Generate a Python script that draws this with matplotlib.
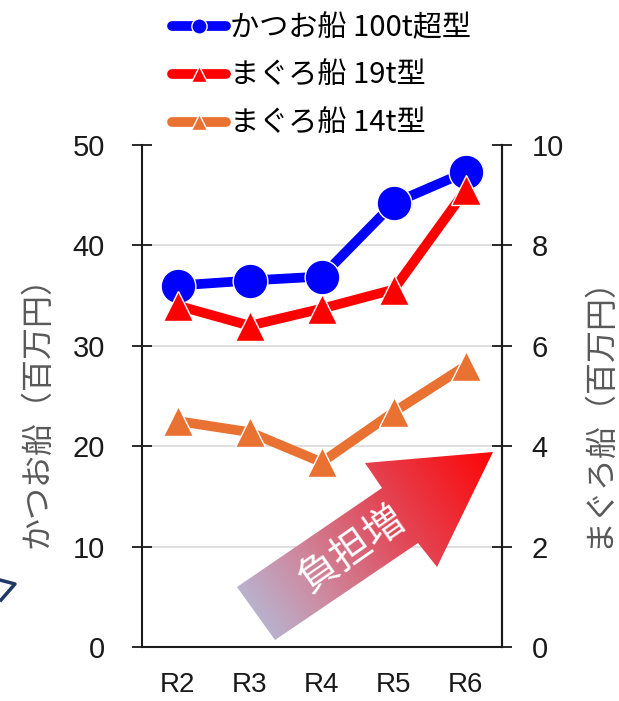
import numpy as np
import matplotlib
matplotlib.use("Agg")
from matplotlib import pyplot as plt
from matplotlib.lines import Line2D
from matplotlib.patches import Polygon

plt.rcParams['font.family'] = ['Liberation Sans', 'Noto Sans CJK JP', 'DejaVu Sans']
jp = ['Noto Sans CJK JP', 'DejaVu Sans']

years = ['R2', 'R3', 'R4', 'R5', 'R6']
katsuo_100t = [36.0, 36.5, 36.9, 44.2, 47.3]
maguro_19t = [6.8, 6.4, 6.74, 7.12, 9.1]
maguro_14t = [4.5, 4.28, 3.68, 4.68, 5.6]
names = ['かつお船 100t超型', 'まぐろ船 19t型', 'まぐろ船 14t型']
colors = ['#0000FF', '#FF0000', '#E97132']

fig = plt.figure(figsize=(6.19, 7.01), dpi=100)
ax = fig.add_axes([0.229, 0.077, 0.5815, 0.7162])
ax2 = ax.twinx()

x = np.arange(len(years))
ax.plot(x, katsuo_100t, color=colors[0], lw=7, marker='o', ms=25,
        mec='white', mew=1, zorder=3)
ax2.plot(x, maguro_19t, color=colors[1], lw=7, marker='^', ms=22,
         mec='white', mew=1, zorder=4)
ax2.plot(x, maguro_14t, color=colors[2], lw=7, marker='^', ms=22,
         mec='white', mew=1, zorder=3)

ax.set_xlim(-0.5, 4.5)
ax.set_ylim(0, 50)
ax2.set_ylim(0, 10)
ax.set_yticks(range(0, 51, 10))
ax2.set_yticks(range(0, 11, 2))
ax.set_xticks(x)
ax.set_xticklabels(years)

ax.yaxis.grid(True, color='#D9D9D9', lw=1.2)
gl = ax.get_ygridlines()
gl[0].set_visible(False)
gl[-1].set_visible(False)

for a in (ax, ax2):
    a.spines['top'].set_visible(False)
    for s in a.spines.values():
        s.set_linewidth(1.5)
        s.set_color('#1a1a1a')
ax2.spines['left'].set_visible(False)
ax2.spines['bottom'].set_visible(False)

ax.tick_params(axis='y', direction='inout', length=15, width=1.3,
               labelsize=21, pad=19, colors='#1a1a1a')
ax2.tick_params(axis='y', direction='inout', length=15, width=1.3,
                labelsize=21, pad=14, colors='#1a1a1a')
ax.tick_params(axis='x', length=0, labelsize=20, pad=18, colors='#1a1a1a')

ax.set_ylabel('かつお船（百万円）', family=jp, fontsize=23, color='#595959', va='center')
ax2.set_ylabel('まぐろ船（百万円）', family=jp, fontsize=23, color='#595959', va='center')
ax.yaxis.set_label_coords(-0.29, 0.485)
ax2.yaxis.set_label_coords(1.267, 0.485)

handles = [
    Line2D([], [], color=colors[0], lw=7, marker='o', ms=11, mec='white',
           mew=1, solid_capstyle='round'),
    Line2D([], [], color=colors[1], lw=7, marker='^', ms=11, mec='white',
           mew=1, solid_capstyle='round'),
    Line2D([], [], color=colors[2], lw=7, marker='^', ms=11, mec='white',
           mew=1, solid_capstyle='round'),
]
fig.legend(handles, names, loc='upper left', bbox_to_anchor=(172 / 619, 1 - 13 / 701),
           frameon=False, prop={'family': jp, 'size': 21}, handlelength=1.85,
           handletextpad=0.15, labelspacing=0.62, borderpad=0, borderaxespad=0)

# overlay for the arrow annotation, pixel coordinates
ov = fig.add_axes([0, 0, 1, 1], zorder=10)
ov.patch.set_visible(False)
ov.axis('off')

arrow_pts = [(237, 587), (382, 488), (365, 463), (493, 452),
             (437, 567), (418, 543), (275, 640)]
poly = Polygon(arrow_pts, closed=True, facecolor='none', edgecolor='none')
ov.add_patch(poly)

gx, gy = np.meshgrid(np.linspace(230, 500, 200), np.linspace(445, 645, 160))
ang = np.deg2rad(35)
t = (gx - 237) * np.cos(ang) - (gy - 640) * np.sin(ang)
t = (t - t.min()) / (t.max() - t.min())
stops = [0.0, 0.3, 0.62, 1.0]
reds = [0.68, 0.80, 0.89, 1.0]
greens = [0.79, 0.55, 0.27, 0.0]
blues = [0.91, 0.64, 0.33, 0.0]
img = np.dstack([np.interp(t, stops, reds), np.interp(t, stops, greens),
                 np.interp(t, stops, blues)])
im = ov.imshow(img, extent=(230, 500, 645, 445), origin='upper', aspect='auto')
im.set_clip_path(poly)

ov.text(352, 550, '負担増', rotation=35, rotation_mode='anchor', ha='center',
        va='center', color='white', fontsize=29, family=jp)

ov.plot([0, 15, 1], [580, 584, 600], color='#1F3864', lw=2.5)

ov.set_xlim(0, 619)
ov.set_ylim(701, 0)

fig.savefig('out.png', dpi=100)
